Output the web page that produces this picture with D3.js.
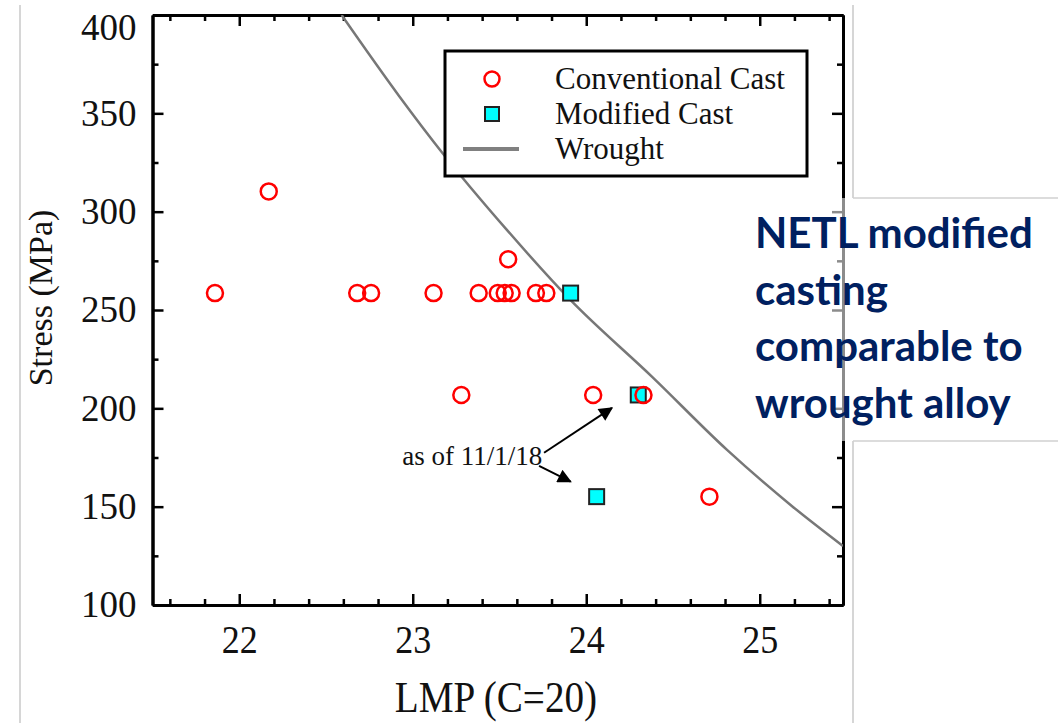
<!DOCTYPE html>
<html>
<head>
<meta charset="utf-8">
<title>LMP vs Stress</title>
<script src="https://d3js.org/d3.v7.min.js"></script>
<style>
  body { margin: 0; background: #fff; }
  svg { display: block; }
</style>
</head>
<body>
<script>
// data
var lmpTicks = [22, 23, 24, 25];
var stressTicks = [100, 150, 200, 250, 300, 350, 400];

var convLmp    = [21.86, 22.17, 22.68, 22.76, 23.12, 23.28, 23.38, 23.49, 23.53, 23.55, 23.57, 23.71, 23.77, 24.04, 24.33, 24.71];
var convStress = [258.6, 310.3, 258.6, 258.6, 258.6, 206.8, 258.6, 258.6, 258.6, 275.8, 258.6, 258.6, 258.6, 206.8, 206.8, 155.1];

var modLmp    = [23.91, 24.30, 24.06];
var modStress = [258.6, 206.8, 155.1];

var wroughtLmp    = [22.59, 22.92, 23.17, 23.54, 23.91, 24.38, 24.81, 25.19, 25.48];
var wroughtStress = [400, 359, 330, 291, 255, 216, 179, 150, 130];

var legendLabels = ["Conventional Cast", "Modified Cast", "Wrought"];
var noteLines = ["NETL modified", "casting", "comparable to", "wrought alloy"];

var W = 1058, H = 723;
var pLeft = 152.5, pRight = 843, pTop = 15, pBottom = 605;
var serif = "'Liberation Serif', 'Times New Roman', serif";

var svg = d3.select("body").append("svg").attr("width", W).attr("height", H);

var x = d3.scaleLinear().domain([21.5, 25.48]).range([pLeft, pRight]);
var y = d3.scaleLinear().domain([100, 400]).range([pBottom, pTop]);

// slide frame lines
var frame = svg.append("g").attr("stroke", "#c8c8c8").attr("stroke-width", 1.5);
frame.append("line").attr("x1", 20).attr("x2", 20).attr("y1", 5).attr("y2", H);
frame.append("line").attr("x1", 853).attr("x2", 853).attr("y1", 5).attr("y2", 198);
frame.append("line").attr("x1", 853).attr("x2", 853).attr("y1", 441).attr("y2", H);

svg.append("clipPath").attr("id", "plotclip").append("rect")
  .attr("x", pLeft).attr("y", pTop).attr("width", pRight - pLeft).attr("height", pBottom - pTop);

// minor + major ticks on all four sides, pointing inward
var xMinor = d3.range(21.6, 25.48, 0.2).filter(function(d){ return Math.abs(d - Math.round(d)) > 0.01; });
var yMinor = d3.range(125, 400, 50);

function styleAxis(g) {
  g.select(".domain").attr("stroke-width", 3);
  g.selectAll(".tick line").attr("stroke-width", 2.5);
}

svg.append("g").attr("transform", "translate(0," + pBottom + ")")
  .call(d3.axisBottom(x).tickValues(xMinor).tickSizeInner(-6).tickSizeOuter(0).tickFormat(""))
  .call(styleAxis);
svg.append("g").attr("transform", "translate(0," + pTop + ")")
  .call(d3.axisTop(x).tickValues(xMinor).tickSizeInner(-6).tickSizeOuter(0).tickFormat(""))
  .call(styleAxis);
svg.append("g").attr("transform", "translate(" + pLeft + ",0)")
  .call(d3.axisLeft(y).tickValues(yMinor).tickSizeInner(-6).tickSizeOuter(0).tickFormat(""))
  .call(styleAxis);
svg.append("g").attr("transform", "translate(" + pRight + ",0)")
  .call(d3.axisRight(y).tickValues(yMinor).tickSizeInner(-6).tickSizeOuter(0).tickFormat(""))
  .call(styleAxis);

var xAxis = svg.append("g").attr("transform", "translate(0," + pBottom + ")")
  .call(d3.axisBottom(x).tickValues(lmpTicks).tickSizeInner(-11).tickSizeOuter(0).tickPadding(20).tickFormat(d3.format("d")))
  .call(styleAxis);
xAxis.selectAll("text")
  .attr("font-family", serif)
  .attr("font-size", 40).attr("fill", "#111")
  .attr("transform", "scale(0.9,1)");

svg.append("g").attr("transform", "translate(0," + pTop + ")")
  .call(d3.axisTop(x).tickValues(lmpTicks).tickSizeInner(-11).tickSizeOuter(0).tickFormat(""))
  .call(styleAxis);

var yAxis = svg.append("g").attr("transform", "translate(" + pLeft + ",0)")
  .call(d3.axisLeft(y).tickValues(stressTicks).tickSizeInner(-11).tickSizeOuter(0).tickPadding(16).tickFormat(d3.format("d")))
  .call(styleAxis);
yAxis.selectAll("text")
  .attr("font-family", serif)
  .attr("font-size", 37).attr("fill", "#111");
yAxis.selectAll(".tick").filter(function(d){ return d === 400; }).select("text").attr("y", 13);

svg.append("g").attr("transform", "translate(" + pRight + ",0)")
  .call(d3.axisRight(y).tickValues(stressTicks).tickSizeInner(-11).tickSizeOuter(0).tickFormat(""))
  .call(styleAxis);

// axis titles
svg.append("text")
  .attr("transform", "translate(496,712) scale(0.89,1)")
  .attr("text-anchor", "middle")
  .attr("font-family", serif)
  .attr("font-size", 44).attr("fill", "#111")
  .text("LMP (C=20)");

svg.append("text")
  .attr("transform", "translate(52,298) rotate(-90)")
  .attr("text-anchor", "middle")
  .attr("font-family", serif)
  .attr("font-size", 34).attr("fill", "#111")
  .text("Stress (MPa)");

// wrought curve
var plot = svg.append("g").attr("clip-path", "url(#plotclip)");
var wrought = wroughtLmp.map(function(d, i){ return [d, wroughtStress[i]]; });
plot.append("path")
  .datum(wrought)
  .attr("fill", "none")
  .attr("stroke", "#777")
  .attr("stroke-width", 2.5)
  .attr("d", d3.line().x(function(d){ return x(d[0]); }).y(function(d){ return y(d[1]); }).curve(d3.curveMonotoneX));

// modified cast squares
var sq = 15;
plot.selectAll("rect.mod")
  .data(modLmp)
  .enter().append("rect")
  .attr("class", "mod")
  .attr("x", function(d){ return x(d) - sq / 2; })
  .attr("y", function(d, i){ return y(modStress[i]) - sq / 2; })
  .attr("width", sq).attr("height", sq)
  .attr("fill", "#00ffff").attr("stroke", "#222").attr("stroke-width", 2);

// conventional cast circles
plot.selectAll("circle.conv")
  .data(convLmp)
  .enter().append("circle")
  .attr("class", "conv")
  .attr("cx", function(d){ return x(d); })
  .attr("cy", function(d, i){ return y(convStress[i]); })
  .attr("r", 8)
  .attr("fill", "none").attr("stroke", "#ff0000").attr("stroke-width", 2.5);

// annotation arrows
var defs = svg.append("defs");
defs.append("marker").attr("id", "head")
  .attr("viewBox", "0 0 10 10").attr("refX", 9).attr("refY", 5)
  .attr("markerWidth", 7.5).attr("markerHeight", 7).attr("markerUnits", "strokeWidth")
  .attr("orient", "auto")
  .append("path").attr("d", "M0,0 L10,5 L0,10 Z").attr("fill", "#000");

var arrows = [
  { from: [23.757, 177.4], to: [24.148, 200.2] },
  { from: [23.728, 170.7], to: [23.91, 162.7] }
];
svg.selectAll("line.arrow")
  .data(arrows)
  .enter().append("line")
  .attr("class", "arrow")
  .attr("x1", function(d){ return x(d.from[0]); })
  .attr("y1", function(d){ return y(d.from[1]); })
  .attr("x2", function(d){ return x(d.to[0]); })
  .attr("y2", function(d){ return y(d.to[1]); })
  .attr("stroke", "#000").attr("stroke-width", 2)
  .attr("marker-end", "url(#head)");

svg.append("text")
  .attr("x", x(22.94)).attr("y", y(171.2))
  .attr("font-family", serif)
  .attr("font-size", 27).attr("fill", "#111")
  .text("as of 11/1/18");

// legend
var lg = svg.append("g").attr("transform", "translate(445,51)");
lg.append("rect").attr("width", 362).attr("height", 125)
  .attr("fill", "#fff").attr("stroke", "#000").attr("stroke-width", 3);
var rows = lg.selectAll("g.row").data(legendLabels).enter().append("g")
  .attr("class", "row")
  .attr("transform", function(d, i){ return "translate(0," + (28 + i * 35) + ")"; });
rows.append("text")
  .attr("x", 110).attr("y", 10)
  .attr("font-family", serif)
  .attr("font-size", 31).attr("fill", "#111")
  .text(function(d){ return d; });
rows.filter(function(d, i){ return i === 0; }).append("circle")
  .attr("cx", 47).attr("cy", 0).attr("r", 7.5)
  .attr("fill", "none").attr("stroke", "#ff0000").attr("stroke-width", 2.5);
rows.filter(function(d, i){ return i === 1; }).append("rect")
  .attr("x", 47 - 7).attr("y", -7).attr("width", 14).attr("height", 14)
  .attr("fill", "#00ffff").attr("stroke", "#222").attr("stroke-width", 2);
rows.filter(function(d, i){ return i === 2; }).append("line")
  .attr("x1", 18).attr("x2", 74).attr("y1", 0).attr("y2", 0)
  .attr("stroke", "#808080").attr("stroke-width", 4);

// text box on top of the figure
svg.append("rect")
  .attr("x", 745).attr("y", 198).attr("width", W - 745).attr("height", 243)
  .attr("fill", "#fff").attr("fill-opacity", 0.55);
var boxEdges = svg.append("g").attr("stroke", "#d0d0d0").attr("stroke-width", 1.5);
boxEdges.append("line").attr("x1", 853).attr("x2", W).attr("y1", 198).attr("y2", 198);
boxEdges.append("line").attr("x1", 853).attr("x2", W).attr("y1", 441).attr("y2", 441);

svg.append("g").selectAll("text")
  .data(noteLines)
  .enter().append("text")
  .attr("x", 755)
  .attr("y", function(d, i){ return 248 + i * 56.5; })
  .attr("font-family", "Lato, 'Open Sans', sans-serif")
  .attr("font-weight", 700)
  .attr("font-size", 42)
  .attr("fill", "#002060")
  .text(function(d){ return d; });
</script>
</body>
</html>
